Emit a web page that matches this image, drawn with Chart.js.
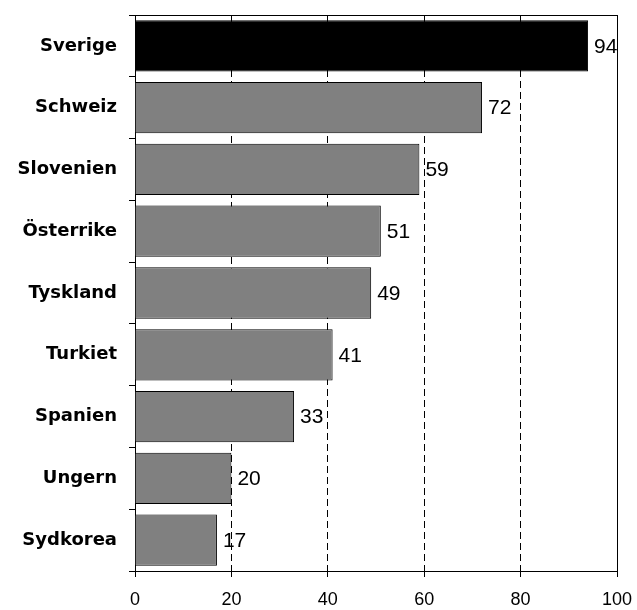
<!DOCTYPE html>
<html>
<head>
<meta charset="utf-8">
<script src="https://cdn.jsdelivr.net/npm/chart.js@4"></script>
<style>
  html, body { margin: 0; padding: 0; background: #fff; }
  #wrap { width: 637px; height: 610px; }
</style>
</head>
<body>
<div id="wrap"><canvas id="chart" width="637" height="610"></canvas></div>
<script>
// Values
const countries = ["Sverige", "Schweiz", "Slovenien", "Österrike", "Tyskland", "Turkiet", "Spanien", "Ungern", "Sydkorea"];
const values = [94, 72, 59, 51, 49, 41, 33, 20, 17];
const barColors = ["#000000", "#808080", "#808080", "#808080", "#808080", "#808080", "#808080", "#808080", "#808080"];
const xTicks = [0, 20, 40, 60, 80, 100];

const sansFont = 'Arial, "Liberation Sans", Helvetica, sans-serif';

// value labels at the end of each bar
const valueLabels = {
    id: 'valueLabels',
    afterDatasetsDraw(chart) {
        const ctx = chart.ctx;
        const meta = chart.getDatasetMeta(0);
        ctx.save();
        ctx.font = '21px ' + sansFont;
        ctx.fillStyle = '#000';
        ctx.textAlign = 'left';
        ctx.textBaseline = 'middle';
        meta.data.forEach((bar, i) => {
            ctx.fillText(String(values[i]), bar.x + 6, bar.y + 1);
        });
        ctx.restore();
    }
};

// frame round the plot area (top and right sides)
const frame = {
    id: 'frame',
    afterDraw(chart) {
        const a = chart.chartArea;
        const ctx = chart.ctx;
        ctx.save();
        ctx.strokeStyle = '#000';
        ctx.lineWidth = 1;
        ctx.beginPath();
        ctx.moveTo(a.left, a.top + 0.5);
        ctx.lineTo(a.right + 0.5, a.top + 0.5);
        ctx.lineTo(a.right + 0.5, a.bottom);
        ctx.stroke();
        ctx.restore();
    }
};

new Chart(document.getElementById('chart'), {
    type: 'bar',
    data: {
        labels: countries,
        datasets: [{
            data: values,
            backgroundColor: barColors,
            borderColor: '#000',
            borderWidth: 1,
            barPercentage: 0.83,
            categoryPercentage: 1
        }]
    },
    options: {
        indexAxis: 'y',
        responsive: false,
        animation: false,
        devicePixelRatio: 1,
        layout: { padding: { top: 15, right: 20, left: 0, bottom: 0 } },
        plugins: {
            legend: { display: false },
            tooltip: { enabled: false }
        },
        scales: {
            x: {
                min: 0,
                max: 100,
                afterBuildTicks(scale) {
                    scale.ticks = xTicks.map(v => ({ value: v }));
                },
                afterFit(scale) {
                    scale.height = 39;
                    scale.paddingLeft = 0;
                    scale.paddingRight = 0;
                },
                grid: {
                    color: '#000',
                    lineWidth: 1,
                    tickLength: 6,
                    tickColor: '#000'
                },
                border: { display: true, color: '#000', width: 1, dash: [7, 4] },
                ticks: {
                    color: '#000',
                    padding: 12,
                    maxRotation: 0,
                    font: { family: sansFont, size: 18 }
                }
            },
            y: {
                afterFit(scale) {
                    scale.width = 135;
                    scale.paddingTop = 0;
                    scale.paddingBottom = 0;
                },
                grid: {
                    offset: true,
                    drawOnChartArea: false,
                    tickLength: 6,
                    color: '#000'
                },
                border: { display: true, color: '#000', width: 1 },
                ticks: {
                    color: '#000',
                    padding: 12,
                    font: { family: '"DejaVu Sans", sans-serif', size: 18, weight: 'bold' }
                }
            }
        }
    },
    plugins: [valueLabels, frame]
});
</script>
</body>
</html>
